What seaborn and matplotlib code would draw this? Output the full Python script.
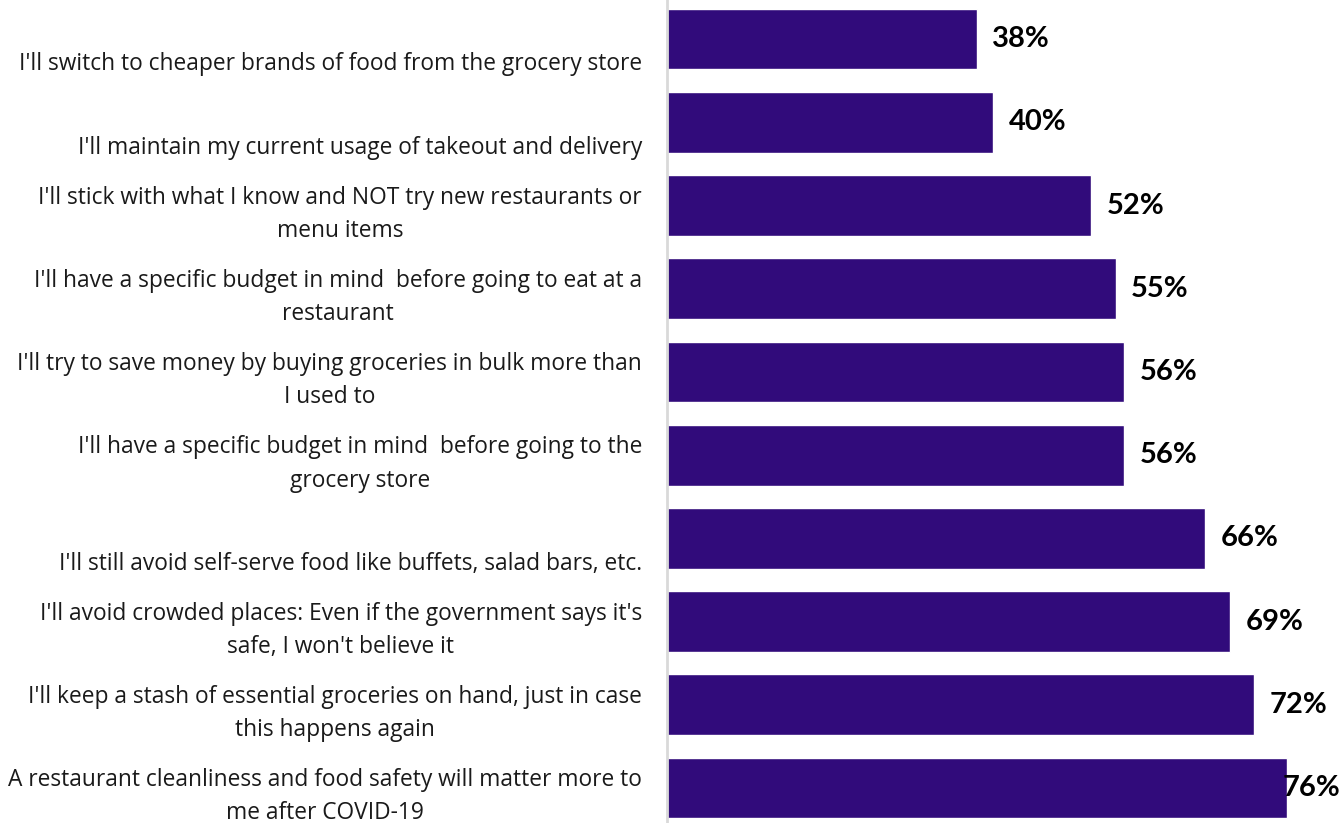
import matplotlib
matplotlib.use("Agg")
import matplotlib.pyplot as plt
import matplotlib.transforms as mtransforms
import seaborn as sns
import pandas as pd

categories = [
    "I'll switch to cheaper brands of food from the grocery store",
    "I'll maintain my current usage of takeout and delivery",
    "I'll stick with what I know and NOT try new restaurants or\nmenu items",
    "I'll have a specific budget in mind  before going to eat at a\nrestaurant",
    "I'll try to save money by buying groceries in bulk more than\nI used to",
    "I'll have a specific budget in mind  before going to the\ngrocery store",
    "I'll still avoid self-serve food like buffets, salad bars, etc.",
    "I'll avoid crowded places: Even if the government says it's\nsafe, I won't believe it",
    "I'll keep a stash of essential groceries on hand, just in case\nthis happens again",
    "A restaurant cleanliness and food safety will matter more to\nme after COVID-19",
]
values = [38, 40, 52, 55, 56, 56, 66, 69, 72, 76]
value_labels = ["38%", "40%", "52%", "55%", "56%", "56%", "66%", "69%", "72%", "76%"]

sns.set_theme(style="white")
plt.rcParams["font.family"] = ["Open Sans", "DejaVu Sans"]

df = pd.DataFrame({"cat": categories, "val": values})

fig = plt.figure(figsize=(13.44, 8.23), dpi=100)
ax = fig.add_axes([667 / 1344, 0, 1 - 667 / 1344, 1])

sns.barplot(data=df, x="val", y="cat", orient="h", color="#310B7B",
            saturation=1, width=0.73, ax=ax)

XMAX = 83.0
ax.set_xlim(0, XMAX)
ax.set_ylim(9.42, -0.47)
ax.set_xlabel("")
ax.set_ylabel("")
ax.set_xticks([])

for s in ["top", "right", "bottom"]:
    ax.spines[s].set_visible(False)
ax.spines["left"].set_color("#d9d9d9")
ax.spines["left"].set_linewidth(2)

ax.set_yticks(range(len(categories)))
ax.set_yticklabels([c if "\n" in c else "\n" + c for c in categories],
                   fontsize=16.4, color="#1a1a1a", multialignment="center",
                   linespacing=1.52)
ax.tick_params(axis="y", length=0, pad=18)
shift = mtransforms.ScaledTranslation(0, -1 / 100, fig.dpi_scale_trans)
for t in ax.get_yticklabels():
    t.set_transform(t.get_transform() + shift)

for i, (v, lab) in enumerate(zip(values, value_labels)):
    kw = dict(va="center", fontsize=21, fontweight="bold", color="black",
              family=["Lato", "DejaVu Sans"])
    if v + 2 + 7.6 > XMAX:
        ax.text(XMAX - 0.4, i, lab, ha="right", **kw)
    else:
        ax.text(v + 1.9, i, lab, ha="left", **kw)

fig.savefig("out.png", dpi=100)
